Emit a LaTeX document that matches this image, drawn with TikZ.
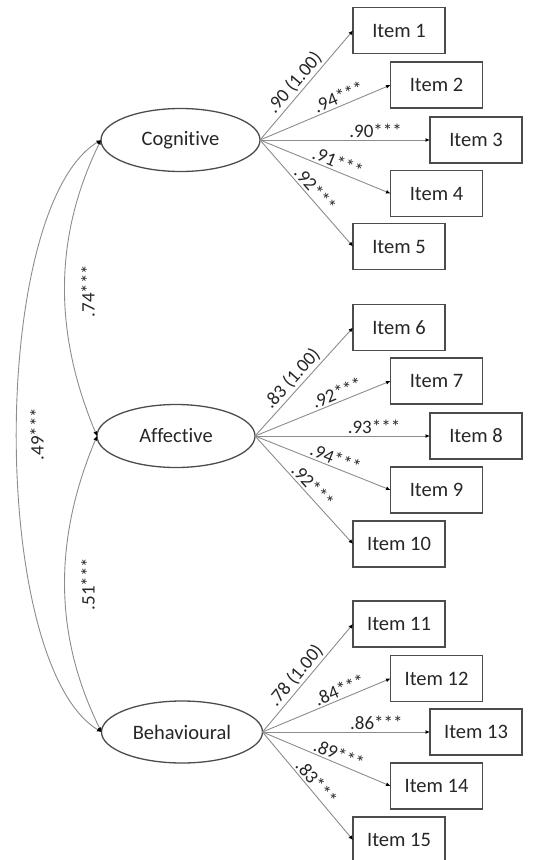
\documentclass[tikz,border=0pt]{standalone}
\usepackage{fontspec}
\setmainfont[Ligatures=NoCommon]{Carlito}
\usetikzlibrary{shapes.geometric,arrows.meta}
\begin{document}
\begin{tikzpicture}[x=1pt,y=-1pt,
  font=\fontsize{20.5}{24}\selectfont,
  latent/.style={ellipse, draw=black!70, line width=1.3pt, minimum width=159pt, minimum height=63pt, inner sep=0pt, outer sep=0pt, text=black!85},
  itembox/.style={rectangle, draw=black!70, line width=1.3pt, minimum width=92pt, minimum height=46pt, inner sep=0pt, outer sep=0pt, text=black!85},
  tipk/.tip={Latex[length=4.5pt,width=4pt,color=black]},
  conn/.style={draw=black!45, line width=0.9pt, -tipk},
  cov/.style={draw=black!45, line width=0.9pt, tipk-tipk},
  lab/.style={font=\fontsize{19}{22}\selectfont, text=black!85, inner sep=2pt},
]
\useasboundingbox (0,0) rectangle (557,860);

% latent variables
\node[latent] (cog) at (180.5,140) {Cognitive};
\node[latent, minimum width=158pt] (aff) at (176,436) {Affective};
\node[latent, minimum width=161pt, minimum height=62pt] (beh) at (182,732) {Behavioural};

% items
\node[itembox] (i1) at (399,30.5) {Item 1};
\node[itembox] (i2) at (436.5,85) {Item 2};
\node[itembox] (i3) at (476,140) {Item 3};
\node[itembox] (i4) at (436.5,193.5) {Item 4};
\node[itembox] (i5) at (399,246.5) {Item 5};

\node[itembox] (i6) at (399,327.5) {Item 6};
\node[itembox] (i7) at (436.5,381) {Item 7};
\node[itembox] (i8) at (476,436) {Item 8};
\node[itembox] (i9) at (436.5,490) {Item 9};
\node[itembox] (i10) at (399,544) {Item 10};

\node[itembox] (i11) at (399,624) {Item 11};
\node[itembox] (i12) at (436.5,678.5) {Item 12};
\node[itembox] (i13) at (476,732) {Item 13};
\node[itembox] (i14) at (436.5,786) {Item 14};
\node[itembox] (i15) at (399,840) {Item 15};

% loadings
\draw[conn] (cog.east) -- node[lab,sloped,above,pos=0.46] {.90 (1.00)} (i1.west);
\draw[conn] (cog.east) -- node[lab,sloped,above,pos=0.63] {.94***} (i2.west);
\draw[conn] (cog.east) -- node[lab,sloped,above,pos=0.68] {.90***} (i3.west);
\draw[conn] (cog.east) -- node[lab,sloped,above,pos=0.57] {.91***} (i4.west);
\draw[conn] (cog.east) -- node[lab,sloped,above,pos=0.52] {.92***} (i5.west);

\draw[conn] (aff.east) -- node[lab,sloped,above,pos=0.46] {.83 (1.00)} (i6.west);
\draw[conn] (aff.east) -- node[lab,sloped,above,pos=0.63] {.92***} (i7.west);
\draw[conn] (aff.east) -- node[lab,sloped,above,pos=0.68] {.93***} (i8.west);
\draw[conn] (aff.east) -- node[lab,sloped,above,pos=0.57] {.94***} (i9.west);
\draw[conn] (aff.east) -- node[lab,sloped,above,pos=0.52] {.92***} (i10.west);

\draw[conn] (beh.east) -- node[lab,sloped,above,pos=0.46] {.78 (1.00)} (i11.west);
\draw[conn] (beh.east) -- node[lab,sloped,above,pos=0.63] {.84***} (i12.west);
\draw[conn] (beh.east) -- node[lab,sloped,above,pos=0.68] {.86***} (i13.west);
\draw[conn] (beh.east) -- node[lab,sloped,above,pos=0.57] {.89***} (i14.west);
\draw[conn] (beh.east) -- node[lab,sloped,above,pos=0.52] {.83***} (i15.west);

% covariances
\draw[cov] (cog.west) .. controls (-11,208) and (-11,664) .. (beh.west);
\draw[cov] (cog.west) .. controls (52,240) and (55,336) .. (aff.west);
\draw[cov] (aff.west) .. controls (55,536) and (52,632) .. (beh.west);

\node[lab, rotate=90] (c74) at (88,291) {.74***};
\node[lab, rotate=90] (c51) at (88,584) {.51***};
\node[lab, rotate=90] (c49) at (37,434) {.49***};
\end{tikzpicture}
\end{document}
